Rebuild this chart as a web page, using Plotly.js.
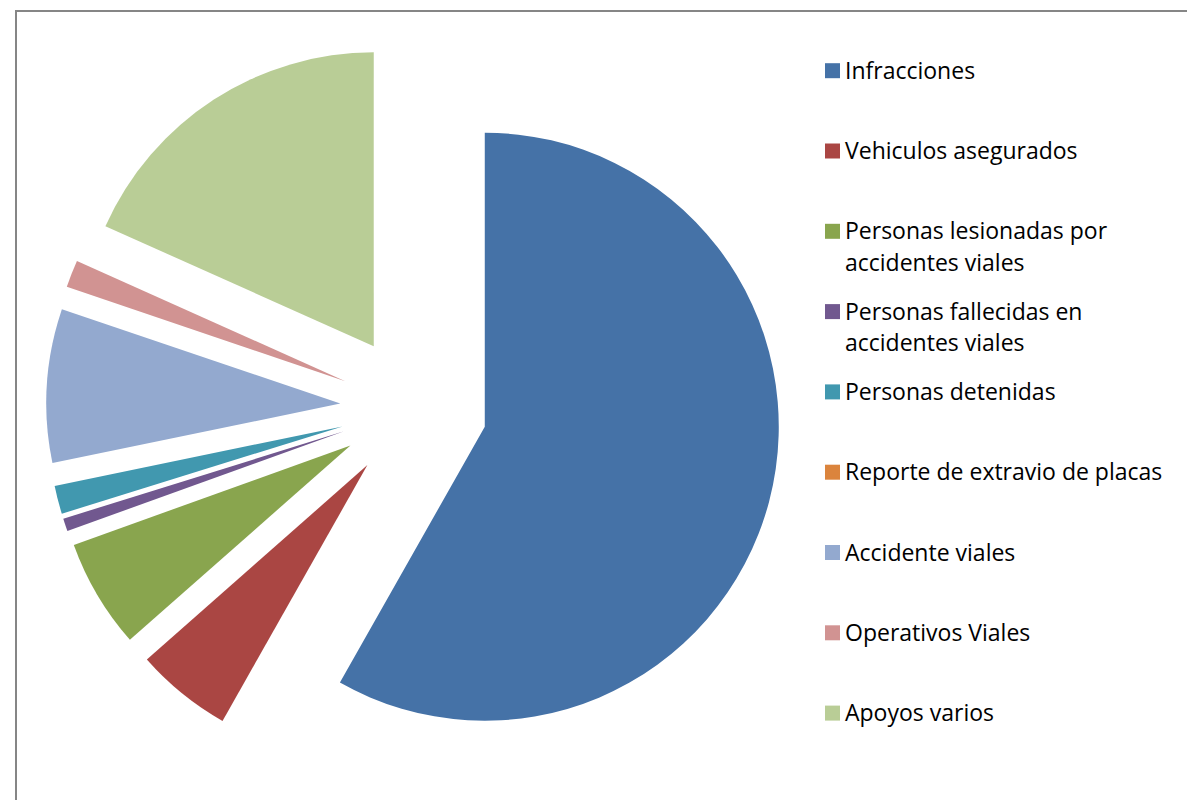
<!DOCTYPE html>
<html>
<head>
<meta charset="utf-8">
<script src="https://cdn.plot.ly/plotly-3.0.1.min.js"></script>
<style>
  html, body { margin: 0; padding: 0; background: #ffffff; }
  #chart { width: 1187px; height: 800px; }
</style>
</head>
<body>
<div id="chart"></div>
<script>
// ---- Data (share in %) ----
const categories = [
  "Infracciones",
  "Vehiculos asegurados",
  "Personas lesionadas por accidentes viales",
  "Personas fallecidas en accidentes viales",
  "Personas detenidas",
  "Reporte de extravio de placas",
  "Accidente viales",
  "Operativos Viales",
  "Apoyos varios"
];
const shares = [58.2, 5.3, 6.0, 0.7, 1.55, 0, 8.45, 1.5, 18.3];
const sliceColors = [
  "#4572A7", "#AA4643", "#89A54E", "#71588F", "#4198AF",
  "#DB843D", "#93A9CF", "#D19392", "#B9CD96"
];

// ---- Layout helpers ----
const W = 1187, H = 800;
const px = x => x / W;
const py = y => 1 - y / H;

function wrap(text, maxChars) {
  const words = text.split(" ");
  const lines = [];
  let cur = "";
  words.forEach(w => {
    const cand = cur ? cur + " " + w : w;
    if (cand.length > maxChars && cur) { lines.push(cur); cur = w; }
    else cur = cand;
  });
  if (cur) lines.push(cur);
  return lines;
}

const pieCx = 413.7, pieCy = 408, box = 735;

const trace = {
  type: "pie",
  labels: categories,
  values: shares,
  sort: false,
  direction: "clockwise",
  rotation: 0,
  pull: categories.map(() => 0.25),
  marker: { colors: sliceColors, line: { width: 0 } },
  textinfo: "none",
  hoverinfo: "label+percent",
  showlegend: false,
  domain: {
    x: [px(pieCx - box / 2), px(pieCx + box / 2)],
    y: [py(pieCy + box / 2), py(pieCy - box / 2)]
  }
};

// ---- Custom legend (squares + text) ----
const shapes = [{
  type: "rect", xref: "paper", yref: "paper",
  x0: px(16), x1: px(W + 20), y0: py(H + 20), y1: py(11),
  line: { color: "#868686", width: 2 }, fillcolor: "rgba(0,0,0,0)"
}];
const annotations = [];
const legY0 = 70.7, legStep = 80.3, lineStep = 31.5;
categories.forEach((c, i) => {
  const yc = legY0 + i * legStep;
  shapes.push({
    type: "rect", xref: "paper", yref: "paper",
    x0: px(825), x1: px(840), y0: py(yc + 7.5), y1: py(yc - 7.5),
    fillcolor: sliceColors[i], line: { width: 0 }
  });
  wrap(c, 30).forEach((ln, j) => {
    annotations.push({
      xref: "paper", yref: "paper",
      x: px(843), y: py(yc - 1 + j * lineStep),
      xanchor: "left", yanchor: "middle",
      text: ln, showarrow: false,
      font: { family: "'Open Sans', 'Noto Sans', sans-serif", size: 23, color: "#000000" }
    });
  });
});

const layout = {
  width: W, height: H,
  margin: { l: 0, r: 0, t: 0, b: 0 },
  paper_bgcolor: "#ffffff",
  plot_bgcolor: "#ffffff",
  showlegend: false,
  shapes: shapes,
  annotations: annotations
};

Plotly.newPlot("chart", [trace], layout, { displayModeBar: false, staticPlot: true });
</script>
</body>
</html>
